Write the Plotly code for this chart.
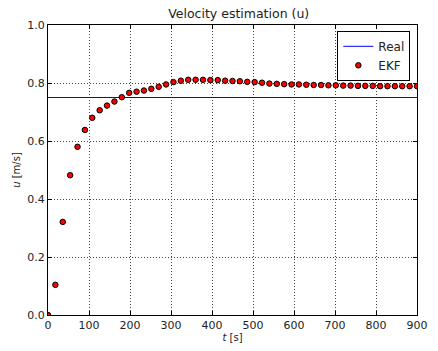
import plotly.graph_objects as go

t = [0, 18, 36, 54, 72, 90, 108, 126, 144, 162, 180, 198, 216, 234, 252, 270, 288, 306,
     324, 342, 360, 378, 396, 414, 432, 450, 468, 486, 504, 522, 540, 558, 576, 594,
     612, 630, 648, 666, 684, 702, 720, 738, 756, 774, 792, 810, 828, 846, 864, 882, 900]
u_ekf = [0.0, 0.104, 0.321, 0.482, 0.580, 0.638, 0.680, 0.706, 0.722, 0.736, 0.751, 0.766,
         0.770, 0.774, 0.780, 0.787, 0.795, 0.803,
         0.808, 0.811, 0.811, 0.811, 0.810, 0.810, 0.808, 0.807, 0.806, 0.804, 0.803, 0.801,
         0.798, 0.797, 0.796, 0.795,
         0.795, 0.794, 0.793, 0.793, 0.792, 0.792, 0.791, 0.791, 0.790, 0.790, 0.790, 0.789,
         0.789, 0.789, 0.789, 0.789, 0.789]
t_real = [0, 900]
u_real = [0.75, 0.75]

font = "DejaVu Sans"
fig = go.Figure()
fig.add_trace(go.Scatter(x=t_real, y=u_real, mode="lines", name="Real",
                         line=dict(color="#0000ff", width=1)))
fig.add_trace(go.Scatter(x=t, y=u_ekf, mode="markers", name="EKF",
                         marker=dict(color="#ff0000", size=5.5,
                                     line=dict(color="black", width=1))))

axis_common = dict(showline=True, linecolor="black", linewidth=1, mirror="allticks",
                   ticks="inside", ticklen=4, tickcolor="black",
                   showgrid=True, gridcolor="#444", griddash="1px,2px", gridwidth=1,
                   zeroline=False, tickfont=dict(family=font, size=11, color="#222"))
fig.update_xaxes(range=[0, 900], dtick=100, tick0=0,
                 title=dict(text="<i>t</i> [s]", font=dict(family=font, size=10, color="#222"),
                            standoff=2), **axis_common)
fig.update_yaxes(range=[0, 1.0], dtick=0.2, tick0=0, tickformat=".1f",
                 title=dict(text="<i>u</i> [m/s]", font=dict(family=font, size=10, color="#222"),
                            standoff=4), **axis_common)

fig.update_layout(
    width=438, height=351,
    margin=dict(l=48, r=10, t=25, b=30),
    paper_bgcolor="white", plot_bgcolor="white",
    title=dict(text="Velocity estimation (u)", x=0.545, xanchor="center",
               y=1 - 14 / 351, yanchor="middle", yref="container",
               font=dict(family=font, size=12.5, color="#222")),
    legend=dict(x=0.982, y=0.98, xanchor="right", yanchor="top",
                bordercolor="black", borderwidth=1, bgcolor="white",
                font=dict(family=font, size=12, color="#222"),
                tracegroupgap=0, itemwidth=30),
    showlegend=True,
)

fig.write_html("out.html")
